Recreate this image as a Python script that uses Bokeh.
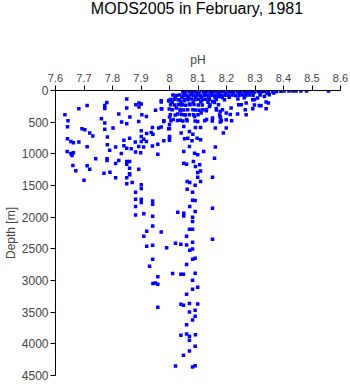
from bokeh.plotting import figure
from bokeh.models import Range1d, FixedTicker, ColumnDataSource, Div
from bokeh.layouts import column
from bokeh.embed import file_html
from bokeh.resources import INLINE

# ---- data (pH vs depth in metres) ----
ph_band = [8.047, 8.058, 8.071, 8.083, 8.094, 8.106, 8.119, 8.130, 8.142, 8.155, 8.166, 8.178, 8.190, 8.203, 8.214,
           8.226, 8.239, 8.250, 8.262, 8.275, 8.286, 8.298, 8.311, 8.322, 8.334, 8.347, 8.362, 8.376, 8.391,
           8.052, 8.077, 8.101, 8.124, 8.148, 8.172, 8.196, 8.221, 8.245, 8.270, 8.293, 8.318, 8.342, 8.366,
           8.012, 8.024, 8.036, 8.049, 8.061, 8.073, 8.085, 8.097, 8.109, 8.122, 8.134, 8.146, 8.158, 8.170,
           8.183, 8.195, 8.207, 8.219, 8.231, 8.244, 8.256, 8.268, 8.280, 8.293, 8.318,
           8.020, 8.044, 8.066, 8.092, 8.113, 8.138, 8.160, 8.185, 8.210, 8.262,
           8.003, 8.016, 8.030, 8.053, 8.065, 8.078, 8.090, 8.102, 8.115, 8.127, 8.140, 8.164, 8.193, 8.240, 8.298,
           8.010, 8.040, 8.083, 8.110, 8.135, 8.158,
           8.004, 8.018, 8.031, 8.045, 8.057, 8.072, 8.086, 8.101, 8.115, 8.142, 8.172, 8.252, 8.298,
           8.010, 8.037, 8.050, 8.064, 8.091, 8.104, 8.117, 8.130, 8.165, 8.186, 8.266,
           8.003, 8.020, 8.042, 8.056, 8.085, 8.100, 8.176, 8.213,
           8.005, 8.028, 8.047, 8.062, 8.090, 8.124, 8.150, 8.182]
depth_band = [15, 20, 12, 18, 25, 15, 20, 12, 22, 16, 18, 25, 14, 20, 15,
              22, 17, 12, 20, 15, 18, 24, 14, 20, 16, 12, 18, 15, 12,
              42, 38, 45, 40, 36, 44, 40, 38, 45, 42, 36, 40, 44, 38,
              72, 78, 70, 75, 80, 73, 76, 70, 78, 74, 72, 80, 75, 70,
              78, 74, 76, 72, 80, 75, 70, 78, 73, 76, 72,
              112, 108, 115, 105, 110, 118, 106, 112, 108, 115,
              142, 138, 145, 140, 148, 136, 143, 140, 146, 138, 144, 140, 148, 136, 142,
              185, 180, 188, 182, 186, 190,
              225, 228, 220, 226, 232, 224, 222, 228, 230, 226, 224, 226, 230,
              305, 300, 308, 302, 306, 310, 304, 300, 306, 302, 305,
              384, 388, 380, 386, 382, 384, 386, 380,
              479, 475, 482, 478, 480, 476, 480, 478]

ph_left = [7.850, 7.780, 7.773, 7.711, 7.773, 7.682, 7.882, 7.893, 7.901, 7.850, 7.893, 7.971, 8.000, 7.951, 7.973, 7.999,
           7.633, 7.822, 7.861, 7.903, 7.919, 7.761, 7.644, 7.773, 7.832, 7.850, 7.892, 7.980, 8.000, 8.000,
           7.642, 7.693, 7.703, 7.773, 7.802, 7.901, 7.940, 7.962, 7.971, 8.000,
           7.720, 7.731, 7.920, 7.936, 7.942, 7.901, 7.860, 7.782, 7.642, 7.840, 7.910, 8.000, 8.000,
           7.654, 7.663, 7.682, 7.782, 7.880, 7.901, 7.919, 7.959,
           7.711, 7.811, 7.840, 7.850, 7.892, 7.909, 7.940, 7.790, 7.866,
           7.641, 7.654, 7.663, 7.658, 7.831, 7.881, 7.899, 7.959,
           7.741, 7.781, 7.781, 7.822, 7.850, 7.860, 7.811, 7.850, 7.661, 7.711, 7.720, 7.671, 7.860, 7.892,
           7.770, 7.791, 7.860]
depth_left = [135, 190, 237, 237, 284, 289, 226, 199, 215, 278, 262, 183, 163, 310, 294, 294,
              384, 373, 420, 384, 411, 447, 479, 515, 499, 526, 490, 490, 420, 537,
              574, 605, 621, 610, 594, 637, 585, 594, 578, 600,
              673, 720, 679, 664, 689, 727, 752, 736, 763, 784, 768, 752, 784,
              806, 826, 815, 858, 815, 806, 806, 847,
              890, 894, 874, 910, 885, 894, 878, 942, 921,
              964, 995, 984, 1027, 995, 973, 984, 1005,
              1079, 1079, 1106, 1106, 1122, 1122, 1153, 1163, 1185, 1190, 1242, 1269, 1226, 1242,
              1305, 1289, 1316]

ph_tail = [7.811, 7.850, 7.860, 7.700, 7.850, 7.869, 7.901, 7.901, 7.881, 7.881, 7.901, 7.901, 7.941, 7.941, 7.881,
           7.881, 7.910, 7.941, 7.941, 7.920, 7.971, 7.910, 7.920, 7.941, 7.990, 7.941, 7.930, 7.959, 7.942, 7.950,
           7.959, 7.959]
depth_tail = [1379, 1379, 1332, 1416, 1474, 1454, 1490, 1548, 1605, 1716, 1716, 1770, 1743, 1795, 1833,
              1964, 1948, 1984, 2138, 2221, 2233, 2300, 2458, 2443, 2481, 2664, 2774, 2939, 3049, 3038,
              3059, 3422]

ph_col = [8.011, 8.021, 8.040, 8.060, 8.070, 8.081, 8.081, 8.151, 8.060, 8.081, 8.071, 8.081, 8.081, 8.090, 8.060,
          8.040, 8.049, 8.090, 8.081, 8.099, 8.081, 8.060, 8.040, 8.049, 8.070, 8.099, 8.070, 8.090, 8.090, 8.081,
          8.060, 8.040, 8.060, 8.070, 8.091, 8.070, 8.090, 8.070, 8.049, 8.021, 8.081, 8.090]
depth_col = [2891, 2411, 2427, 2300, 2190, 2190, 2070, 2348, 2438, 2395, 2522, 2501, 2664, 2648, 2749,
             2901, 2901, 2885, 2996, 3106, 3138, 3217, 3375, 3391, 3365, 3370, 3497, 3470, 3564, 3623,
             3697, 3865, 3844, 3880, 3855, 3944, 4038, 4113, 4181, 4350, 4366, 4345]

ph_mid = [8.109, 8.099, 8.099, 8.151, 8.062, 8.071, 8.109, 8.090, 8.062, 8.081, 8.081, 8.090, 8.071, 8.151, 8.029,
          8.050, 8.050, 8.090, 8.081,
          7.971, 7.997, 7.971, 7.980, 7.997, 7.980, 8.000, 8.013, 8.029, 8.038, 8.050, 8.041, 8.053, 8.064, 8.050,
          8.070, 8.088, 8.099, 8.084, 8.091, 8.106, 8.050, 8.060, 8.120, 8.161, 8.158, 8.161, 8.151, 8.179, 8.130,
          8.109, 8.091, 8.082, 8.097, 8.109, 8.079, 8.070, 8.060, 8.070, 8.052, 8.038, 8.024, 8.041, 8.035, 8.052,
          8.070, 8.082, 8.088, 8.099, 8.111, 8.129, 8.140, 8.152, 8.164, 8.175]
depth_mid = [1273, 1296, 1368, 1368, 1438, 1454, 1438, 1495, 1558, 1605, 1732, 1738, 1833, 1858, 1921,
             1937, 1980, 1912, 2000,
             163, 163, 289, 479, 605, 795, 727, 458, 373, 468, 569, 673, 763, 752, 964,
             885, 989, 1016, 1122, 1201, 1174, 1147, 1163, 964, 894, 1068, 594, 436, 436, 458,
             585, 585, 689, 752, 779, 795, 648, 458, 384, 384, 321, 278, 226, 147, 163,
             215, 305, 411, 490, 357, 321, 253, 174, 131, 95]

ph_right = [8.558, 8.444, 8.461, 8.481, 8.402, 8.419, 8.433, 8.339, 8.339, 8.315, 8.292, 8.269, 8.239, 8.218, 8.199,
            8.199, 8.189, 8.178, 8.178, 8.178, 8.164, 8.199, 8.216, 8.243, 8.269, 8.292, 8.309, 8.333, 8.350, 8.321,
            8.347]
depth_right = [8, 8, 8, 8, 8, 8, 8, 183, 289, 237, 289, 384, 373, 479, 463,
               594, 673, 499, 416, 332, 289, 357, 278, 226, 199, 147, 120, 95, 68, 242,
               199]

x_ticks = [7.6, 7.7, 7.8, 7.9, 8.0, 8.1, 8.2, 8.3, 8.4, 8.5, 8.6]
x_tick_labels = ["7.6", "7.7", "7.8", "7.9", "8", "8.1", "8.2", "8.3", "8.4", "8.5", "8.6"]
y_ticks = [0, 500, 1000, 1500, 2000, 2500, 3000, 3500, 4000, 4500]
title_text = "MODS2005 in February, 1981"

ph = ph_band + ph_left + ph_tail + ph_col + ph_mid + ph_right
depth = depth_band + depth_left + depth_tail + depth_col + depth_mid + depth_right
src = ColumnDataSource(dict(ph=ph, depth=depth))

FONT = "Liberation Sans"

title_div = Div(
    text=('<div style="width:286px;margin-left:54px;text-align:center;'
          'font-family:\'Liberation Sans\';font-size:16px;line-height:18px;color:black;'
          'white-space:nowrap;">' + title_text + '</div>'),
    width=350, height=20, margin=0)

p = figure(width=350, height=364, output_backend="svg", toolbar_location=None,
           x_range=Range1d(7.6, 8.6), y_range=Range1d(4500, 0),
           x_axis_location="above", y_axis_location="left",
           min_border_left=54, min_border_right=10, min_border_top=70, min_border_bottom=9)

p.outline_line_color = None
p.xgrid.visible = False
p.ygrid.visible = False
p.background_fill_color = "white"
p.border_fill_color = "white"

xa = p.xaxis[0]
xa.ticker = FixedTicker(ticks=x_ticks)
xa.major_label_overrides = dict(zip(x_ticks, x_tick_labels))
xa.minor_tick_line_color = None
xa.major_tick_out = 5
xa.major_tick_in = 0
xa.major_label_standoff = 4
xa.axis_label = "pH"
xa.axis_label_standoff = 4
xa.axis_label_text_font = FONT
xa.axis_label_text_font_size = "12px"
xa.axis_label_text_font_style = "normal"
xa.major_label_text_font = FONT
xa.major_label_text_font_size = "11px"
xa.axis_line_color = "black"
xa.major_tick_line_color = "black"

ya = p.yaxis[0]
ya.ticker = FixedTicker(ticks=y_ticks)
ya.minor_tick_line_color = None
ya.major_tick_out = 5
ya.major_tick_in = 0
ya.major_label_standoff = 2
ya.axis_label = "Depth [m]"
ya.axis_label_standoff = 1
ya.axis_label_text_font = FONT
ya.axis_label_text_font_size = "12px"
ya.axis_label_text_font_style = "normal"
ya.major_label_text_font = FONT
ya.major_label_text_font_size = "12px"
ya.axis_line_color = "black"
ya.major_tick_line_color = "black"

p.scatter(x="ph", y="depth", source=src, marker="square", size=3.5,
          fill_color="#0000ff", line_color=None)

layout = column(title_div, p, spacing=0)

open("out.html", "w").write(file_html(layout, INLINE))
